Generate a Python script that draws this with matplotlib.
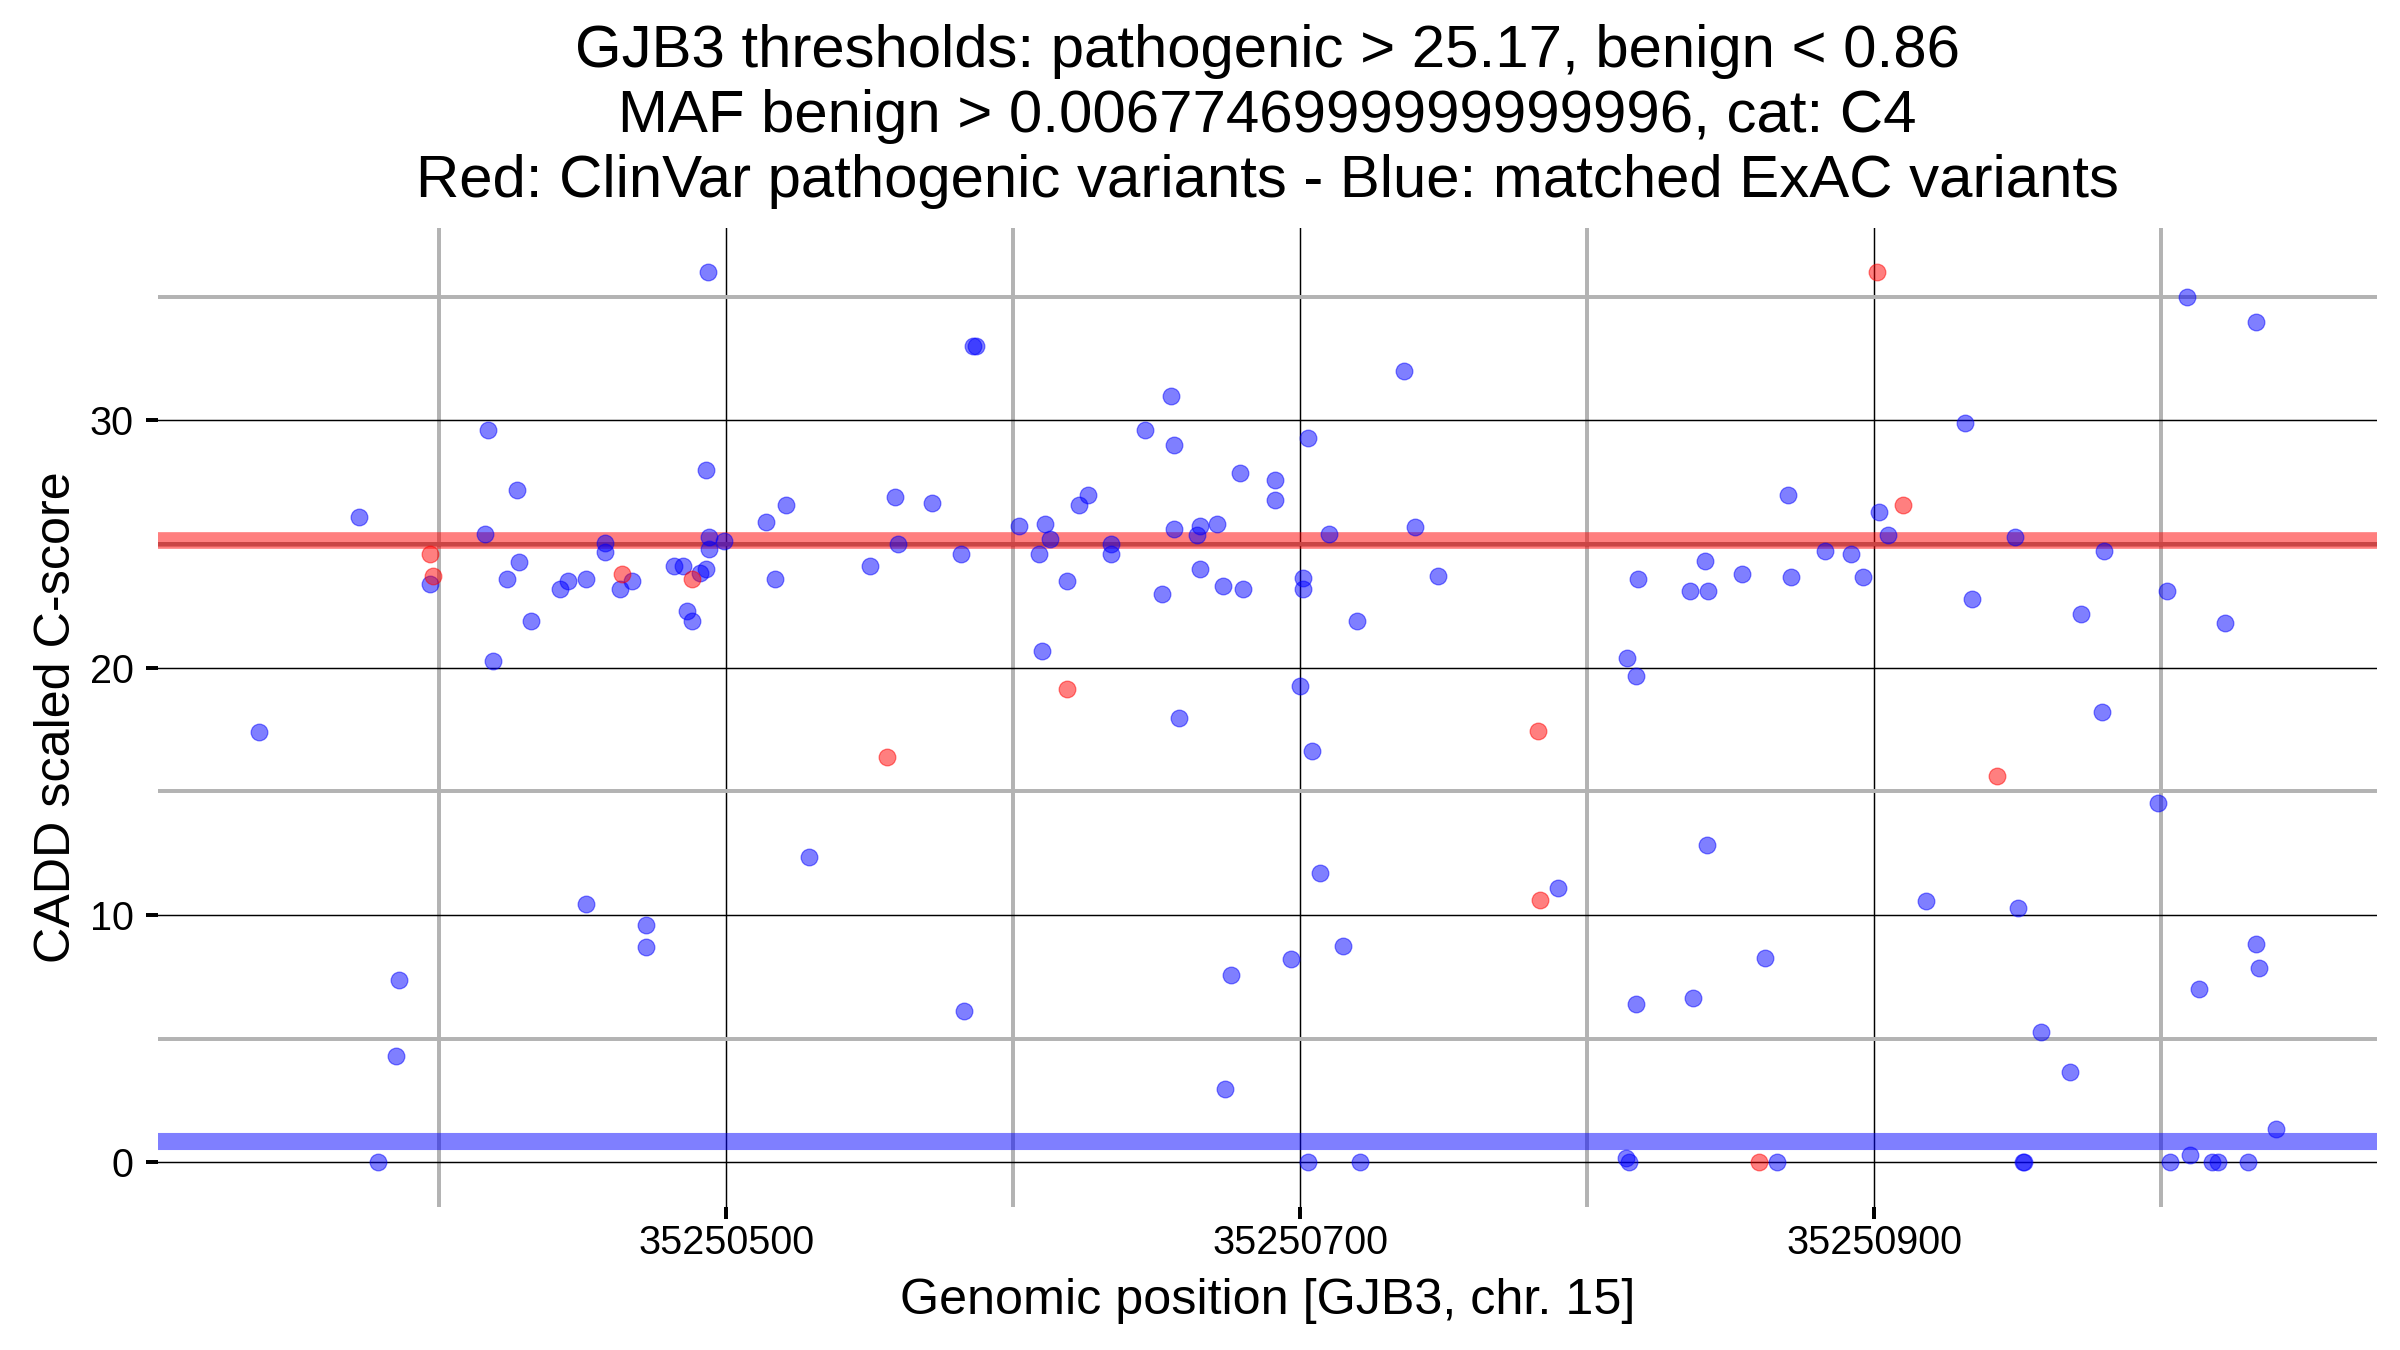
import matplotlib
matplotlib.use("Agg")
import matplotlib.pyplot as plt

plt.rcParams['font.family'] = ['Liberation Sans', 'DejaVu Sans']

# posizioni genomiche (offset da 35250000) e punteggi CADD
base_pos = 35250000

blue_pos = [337.2, 372.1, 378.8, 385.0, 385.9, 397.0, 416.0, 416.9, 418.9, 423.8,
            427.0, 427.9, 432.0, 442.2, 445.0, 451.1, 451.1, 457.8, 457.8, 463.0,
            467.1, 472.1, 472.1, 481.9, 484.9, 486.3, 488.1, 490.8, 493.1, 493.1,
            493.8, 494.0, 494.0, 499.1, 513.9, 516.9, 521.0, 528.8, 550.0, 558.9,
            560.0, 571.9, 581.9, 582.9, 586.2, 587.2, 602.0, 608.9, 610.0, 611.0,
            613.0, 618.9, 622.8, 626.0, 634.0, 634.0, 646.1, 652.0, 655.0, 656.1,
            656.1, 657.9, 664.1, 665.0, 665.2, 671.2, 673.0, 674.0, 676.0, 679.0,
            680.1, 691.1, 691.1, 697.0, 699.9, 700.9, 700.9, 702.9, 702.9, 704.1,
            707.0, 710.0, 715.0, 720.0, 721.0, 736.2, 740.1, 747.9, 789.8, 813.6,
            814.7, 813.8, 816.9, 816.9, 817.8, 835.9, 836.8, 841.0, 841.9, 842.1,
            854.1, 861.9, 866.1, 869.9, 871.0, 882.9, 892.0, 896.0, 901.8, 904.9,
            918.0, 931.8, 934.1, 949.0, 950.1, 951.9, 952.2, 958.1, 968.1, 972.2,
            979.3, 980.2, 999.1, 1002.0, 1003.1, 1009.1, 1010.2, 1013.1, 1017.8, 1020.0,
            1022.3, 1030.3, 1033.2, 1033.2, 1034.1, 1040.1]
blue_score = [17.41, 26.10, 0.0, 4.32, 7.37, 23.4, 25.40, 29.60, 20.29, 23.59,
              27.19, 24.29, 21.89, 23.19, 23.50, 23.59, 10.43, 24.67, 25.03, 23.19,
              23.50, 9.59, 8.73, 24.10, 24.10, 22.28, 21.89, 23.83, 24.01, 27.98,
              36.0, 24.80, 25.29, 25.11, 25.91, 23.59, 26.59, 12.36, 24.10, 26.90,
              25.0, 26.68, 24.58, 6.11, 33.0, 33.0, 25.73, 24.58, 20.69, 25.80,
              25.20, 23.50, 26.58, 26.99, 25.0, 24.58, 29.60, 22.98, 31.0, 29.0,
              25.60, 17.97, 25.35, 24.0, 25.73, 25.80, 23.31, 2.97, 7.56, 27.89,
              23.19, 27.60, 26.79, 8.24, 19.25, 23.62, 23.19, 29.30, 0.0, 16.63,
              11.71, 25.39, 8.76, 21.90, 0.0, 32.0, 25.71, 23.70, 11.11, 0.2,
              0.0, 20.41, 19.65, 6.42, 23.59, 23.10, 6.66, 24.30, 12.83, 23.10,
              23.79, 8.27, 0.0, 26.99, 23.69, 24.71, 24.60, 23.69, 26.30, 25.37,
              10.59, 29.90, 22.79, 25.29, 10.28, 0.0, 0.0, 5.26, 3.66, 22.19,
              18.23, 24.71, 14.53, 23.10, 0.0, 35.0, 0.31, 7.02, 0.0, 0.0,
              21.80, 0.0, 33.99, 8.83, 7.87, 1.36]

red_pos = [397.0, 397.9, 463.7, 488.1, 555.9, 618.9, 782.9, 783.7, 859.9, 900.9, 910.0, 943.0]
red_score = [24.60, 23.70, 23.81, 23.59, 16.39, 19.16, 17.44, 10.63, 0.0, 36.0, 26.59, 15.62]

soglia_patogenico = 25.17
soglia_benigno = 0.86
linea_extra = 25.02

x_major = [35250500, 35250700, 35250900]
x_major_labels = ['35250500', '35250700', '35250900']
x_minor = [35250400, 35250600, 35250800, 35251000]
y_major = [0, 10, 20, 30]
y_minor = [5, 15, 25, 35]

titolo = ["GJB3 thresholds: pathogenic > 25.17, benign < 0.86",
          "MAF benign > 0.0067746999999999996, cat: C4",
          "Red: ClinVar pathogenic variants - Blue: matched ExAC variants"]

bx = [base_pos + p for p in blue_pos]
rx = [base_pos + p for p in red_pos]

W, H = 2400, 1350
fig = plt.figure(figsize=(16, 9), dpi=150)
left, right, top, bottom = 158, 2377, 227.5, 1207
ax = fig.add_axes([left / W, 1 - bottom / H, (right - left) / W, (bottom - top) / H])

# limiti con espansione 5% come ggplot
allx = bx + rx
ally = blue_score + red_score
dx = (max(allx) - min(allx)) * 0.05
dy = (max(ally) - min(ally)) * 0.05
ax.set_xlim(min(allx) - dx, max(allx) + dx)
ax.set_ylim(min(ally) - dy, max(ally) + dy)

ax.set_xticks(x_major)
ax.set_xticklabels(x_major_labels)
ax.set_xticks(x_minor, minor=True)
ax.set_yticks(y_major)
ax.set_yticks(y_minor, minor=True)

ax.grid(which='minor', color='#b3b3b3', linewidth=1.9, zorder=0)
ax.grid(which='major', color='black', linewidth=0.7, zorder=0)
ax.set_axisbelow(True)
for s in ax.spines.values():
    s.set_visible(False)

ax.tick_params(which='minor', length=0)
ax.tick_params(which='major', length=5.6, width=1.9, labelsize=19, colors='black')
ax.tick_params(axis='x', pad=2.5)
ax.tick_params(axis='y', pad=6)

ax.axhline(soglia_patogenico, color='red', alpha=0.5, linewidth=8.0, zorder=2)
ax.axhline(linea_extra, color='#b02020', alpha=0.35, linewidth=2.4, zorder=2)
ax.axhline(soglia_benigno, color='blue', alpha=0.5, linewidth=8.2, zorder=2)

ax.scatter(bx, blue_score, s=64, color='blue', alpha=0.5, linewidths=0.6, zorder=3)
ax.scatter(rx, red_score, s=64, color='red', alpha=0.5, linewidths=0.6, zorder=3)

ax.set_xlabel("Genomic position [GJB3, chr. 15]", fontsize=24.1, va='baseline')
ax.xaxis.set_label_coords(0.5, -(1314.5 - bottom) / (bottom - top))
ax.set_ylabel("CADD scaled C-score", fontsize=24.1, va='baseline')
ax.yaxis.set_label_coords(-(left - 70) / (right - left), 0.5)

cx = (left + right) / 2 / W
for riga, yb in zip(titolo, [66.7, 131.7, 196.7]):
    fig.text(cx, 1 - yb / H, riga, ha='center', va='baseline', fontsize=28.8)

fig.savefig("out.png", dpi=150, facecolor='white')
